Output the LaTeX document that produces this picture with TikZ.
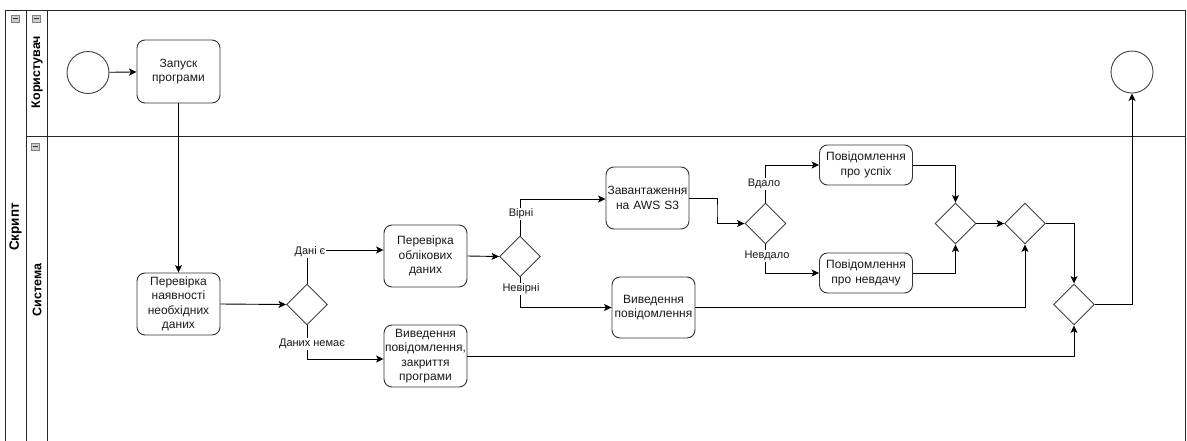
\documentclass[tikz,border=0pt]{standalone}
\usepackage{fontspec}
\setmainfont{Liberation Sans}
\usetikzlibrary{shapes.geometric,arrows.meta,calc}
\begin{document}
\begin{tikzpicture}[x=1pt,y=-1pt,
  frame/.style={draw=black!85, line width=0.9pt},
  task/.style={draw=black!80, line width=0.9pt, rounded corners=8pt, align=center,
    inner xsep=0pt, inner ysep=0pt, text=black!90,
    font=\fontsize{12}{14.5}\selectfont},
  gate/.style={draw=black!75, line width=0.9pt, diamond, aspect=1, inner sep=0pt,
    minimum width=41pt, minimum height=41pt},
  event/.style={draw=black!75, line width=0.9pt, circle, inner sep=0pt, minimum size=42pt},
  arr/.style={draw=black, line width=0.9pt, -{Stealth[length=7.5pt,width=7pt,inset=1.8pt]}},
  lbl/.style={fill=white, inner sep=1pt, font=\fontsize{11}{13}\selectfont, text=black!90},
  lanelbl/.style={rotate=90, font=\bfseries\fontsize{12.5}{14}\selectfont},
  collapse/.style={draw=black!50, fill=black!20, minimum width=8pt, minimum height=7pt, inner sep=0pt}
]
\useasboundingbox (0,0) rectangle (1187,440);
% pool and lanes
\draw[frame] (5,10) rectangle (1185,446);
\draw[frame] (26,10) -- (26,446);
\draw[frame] (47,10) -- (47,446);
\draw[frame] (26,136) -- (1185,136);
\node[lanelbl, font=\bfseries\fontsize{13.5}{15}\selectfont] (pool) at (15.5,227) {Скрипт};
\node[lanelbl] (lane1) at (37,72) {Користувач};
\node[lanelbl] (lane2) at (37,290) {Система};
\foreach \n/\x/\y in {c1/15/18.5, c2/36/18.5, c3/35/146.5}{
  \node[collapse] (\n) at (\x,\y) {};
  \draw[black!80, line width=1pt] ($(\n.center)+(-2.5,0)$) -- ($(\n.center)+(2.5,0)$);
}
% nodes
\node[event] (start) at (88,72.5) {};
\node[event] (end) at (1132,72) {};
\node[task, text width=83pt, minimum height=63pt] (t1) at (178.5,71.5) {Запуск\\програми};
\node[task, text width=83pt, minimum height=62pt] (t2) at (178.5,304) {Перевірка\\наявності\\необхідних\\даних};
\node[gate] (g1) at (307,304.5) {};
\node[task, text width=83pt, minimum height=62pt] (t3) at (425.5,256) {Перевірка\\облікових\\даних};
\node[task, text width=83pt, minimum height=62pt] (t4) at (425.5,356) {Виведення\\повідомлення,\\закриття\\програми};
\node[gate] (g2) at (520,256.5) {};
\node[task, text width=83pt, minimum height=62pt] (t5) at (647.5,198) {Завантаження\\на AWS S3};
\node[task, text width=83pt, minimum height=61pt] (t6) at (653.5,307.5) {Виведення\\повідомлення};
\node[gate] (g3) at (765.5,223.5) {};
\node[task, text width=93pt, minimum height=40pt] (t7) at (866,165) {Повідомлення\\про успіх};
\node[task, text width=93pt, minimum height=40pt] (t8) at (866,273) {Повідомлення\\про невдачу};
\node[gate] (g4) at (955.5,223.5) {};
\node[gate] (g5) at (1025,223.5) {};
\node[gate] (g6) at (1074,304.5) {};
% connectors
\draw[arr] (start) -- (t1);
\draw[arr] (t1) -- (t2);
\draw[arr] (t2.east) -- (g1.west);
\draw[arr] (g1.north) |- ($(t3.west)+(0,-6)$);
\node[lbl] (l1) at (310,251.5) {Дані є};
\draw[arr] (g1.south) |- ($(t4.west)+(0,3)$);
\node[lbl] (l2) at (312,344) {Даних немає};
\draw[arr] (t3.east) -- (g2.west);
\draw[arr] (g2.north) |- ($(t5.west)+(0,1)$);
\node[lbl] (l3) at (521,214) {Вірні};
\draw[arr] (g2.south) |- (t6.west);
\node[lbl] (l4) at (521,289) {Невірні};
\draw[arr] (t5.east) -| ($(t5.east)!0.5!(g3.west)$) |- (g3.west);
\draw[arr] (g3.north) |- (t7.west);
\node[lbl] (l5) at (764,184) {Вдало};
\draw[arr] (g3.south) |- (t8.west);
\node[lbl] (l6) at (767,256) {Невдало};
\draw[arr] (t7.east) -| (g4.north);
\draw[arr] (t8.east) -| (g4.south);
\draw[arr] (g4.east) -- (g5.west);
\draw[arr] (t6.east) -| (g5.south);
\draw[arr] (g5.east) -| (g6.north);
\draw[arr] (t4.east) -| (g6.south);
\draw[arr] (g6.east) -| (end.south);
\end{tikzpicture}
\end{document}
